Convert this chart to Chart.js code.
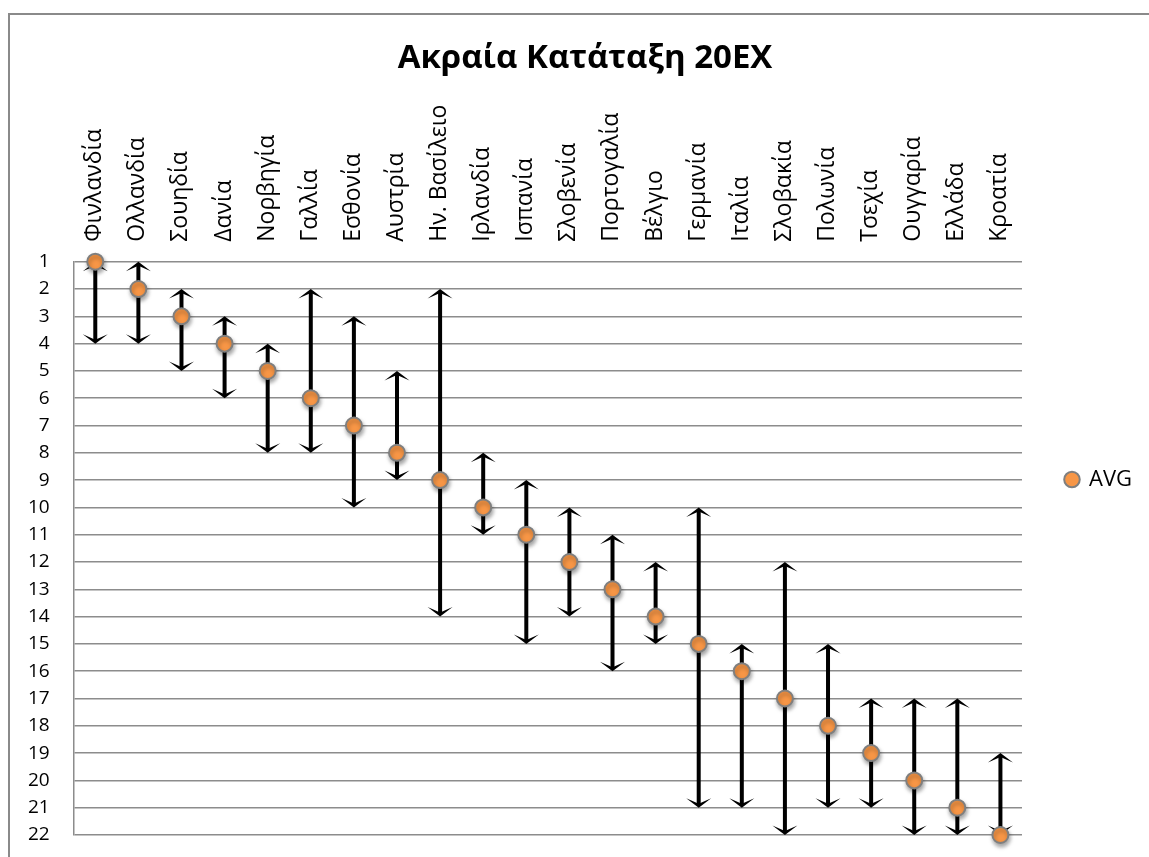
<!DOCTYPE html>
<html>
<head>
<meta charset="utf-8">
<script src="https://cdn.jsdelivr.net/npm/chart.js@4.4.1/dist/chart.umd.min.js"></script>
<style>
  html, body { margin: 0; padding: 0; background: #fff; overflow: hidden; }
  #wrap { position: relative; width: 1149px; height: 857px; }
  #frame { position: absolute; left: 8px; top: 13px; width: 1160px; height: 870px; border: 2px solid #8a8a8a; box-sizing: border-box; }
  canvas { position: absolute; left: 0; top: 0; }
</style>
</head>
<body>
<div id="wrap">
  <div id="frame"></div>
  <canvas id="c" width="1149" height="857"></canvas>
</div>
<script>
const categories = ['Φινλανδία','Ολλανδία','Σουηδία','Δανία','Νορβηγία','Γαλλία','Εσθονία','Αυστρία','Ην. Βασίλειο','Ιρλανδία','Ισπανία','Σλοβενία','Πορτογαλία','Βέλγιο','Γερμανία','Ιταλία','Σλοβακία','Πολωνία','Τσεχία','Ουγγαρία','Ελλάδα','Κροατία'];
const avgRank   = [1, 2, 3, 4, 5, 6, 7, 8, 9, 10, 11, 12, 13, 14, 15, 16, 17, 18, 19, 20, 21, 22];
const bestRank  = [1, 1, 2, 3, 4, 2, 3, 5, 2, 8, 9, 10, 11, 12, 10, 15, 12, 15, 17, 17, 17, 19];
const worstRank = [4, 4, 5, 6, 8, 8, 10, 9, 14, 11, 15, 14, 16, 15, 21, 21, 22, 21, 21, 22, 22, 22];
const rankTicks = [1, 2, 3, 4, 5, 6, 7, 8, 9, 10, 11, 12, 13, 14, 15, 16, 17, 18, 19, 20, 21, 22];

Chart.defaults.font.family = "'Open Sans', 'DejaVu Sans', sans-serif";
Chart.defaults.color = '#000';

function drawHead(ctx, px, py, dir) {
  const w = 12.5, h = 9.5, notch = 4;
  ctx.beginPath();
  ctx.moveTo(px, py);
  ctx.lineTo(px + w, py + dir * h);
  ctx.lineTo(px, py + dir * notch);
  ctx.lineTo(px - w, py + dir * h);
  ctx.closePath();
  ctx.fill();
}

const rangeArrows = {
  id: 'rangeArrows',
  beforeDatasetsDraw(chart) {
    const { ctx, scales: { x, y } } = chart;
    ctx.save();
    ctx.strokeStyle = '#000';
    ctx.fillStyle = '#000';
    ctx.lineWidth = 4;
    categories.forEach((c, i) => {
      const px = x.getPixelForValue(i);
      const yTop = y.getPixelForValue(bestRank[i]);
      const yBot = y.getPixelForValue(worstRank[i]);
      ctx.beginPath();
      ctx.moveTo(px, yTop + 3);
      ctx.lineTo(px, yBot - 3);
      ctx.stroke();
      drawHead(ctx, px, yTop, 1);
      drawHead(ctx, px, yBot, -1);
    });
    ctx.restore();
  }
};

const pointShadow = {
  id: 'pointShadow',
  beforeDatasetDraw(chart) {
    const ctx = chart.ctx;
    ctx.save();
    ctx.shadowColor = 'rgba(0,0,0,0.35)';
    ctx.shadowBlur = 4;
    ctx.shadowOffsetX = 1;
    ctx.shadowOffsetY = 3;
  },
  afterDatasetDraw(chart) {
    chart.ctx.restore();
  }
};

new Chart(document.getElementById('c'), {
  type: 'line',
  data: {
    labels: categories,
    datasets: [{
      label: 'AVG',
      data: avgRank,
      showLine: false,
      pointRadius: 8,
      pointHoverRadius: 8,
      pointBackgroundColor: '#F79646',
      pointBorderColor: '#7f7f7f',
      pointBorderWidth: 2,
      backgroundColor: '#F79646',
      borderColor: '#7f7f7f',
      borderWidth: 2,
      clip: false
    }]
  },
  options: {
    responsive: false,
    animation: false,
    events: [],
    layout: { padding: { left: 28, right: 7, top: 0, bottom: 22 } },
    plugins: {
      title: {
        display: true,
        text: 'Ακραία Κατάταξη 20ΕΧ',
        font: { size: 33, weight: 'bold' },
        color: '#000',
        padding: { top: 39, bottom: 6 }
      },
      legend: {
        position: 'right',
        align: 'center',
        title: { display: true, text: '', font: { size: 10 }, padding: { top: 112, bottom: 0 } },
        labels: {
          usePointStyle: true,
          pointStyle: 'circle',
          boxWidth: 12,
          boxHeight: 11,
          padding: 44,
          font: { size: 22 },
          color: '#000'
        }
      },
      tooltip: { enabled: false }
    },
    scales: {
      x: {
        type: 'category',
        position: 'top',
        offset: true,
        grid: { display: false, drawTicks: false },
        border: { display: false },
        afterFit(axis) { axis.paddingLeft = 0; axis.paddingRight = 0; },
        ticks: {
          minRotation: 90,
          maxRotation: 90,
          autoSkip: false,
          padding: 20,
          labelOffset: 27,
          font: { size: 23 },
          color: '#000'
        }
      },
      y: {
        type: 'linear',
        reverse: true,
        min: 1,
        max: 22,
        afterBuildTicks(axis) { axis.ticks = rankTicks.map(v => ({ value: v })); },
        afterFit(axis) {
          axis.paddingTop = 0; axis.paddingBottom = 0;
          axis.width -= axis.options.ticks.padding;
        },
        grid: { color: '#8c8c8c', lineWidth: 1.5, drawTicks: false },
        border: { display: true, color: '#8c8c8c', width: 1.5 },
        ticks: {
          padding: 24,
          font: { size: 19 },
          color: '#000'
        }
      }
    }
  },
  plugins: [rangeArrows, pointShadow]
});
</script>
</body>
</html>
